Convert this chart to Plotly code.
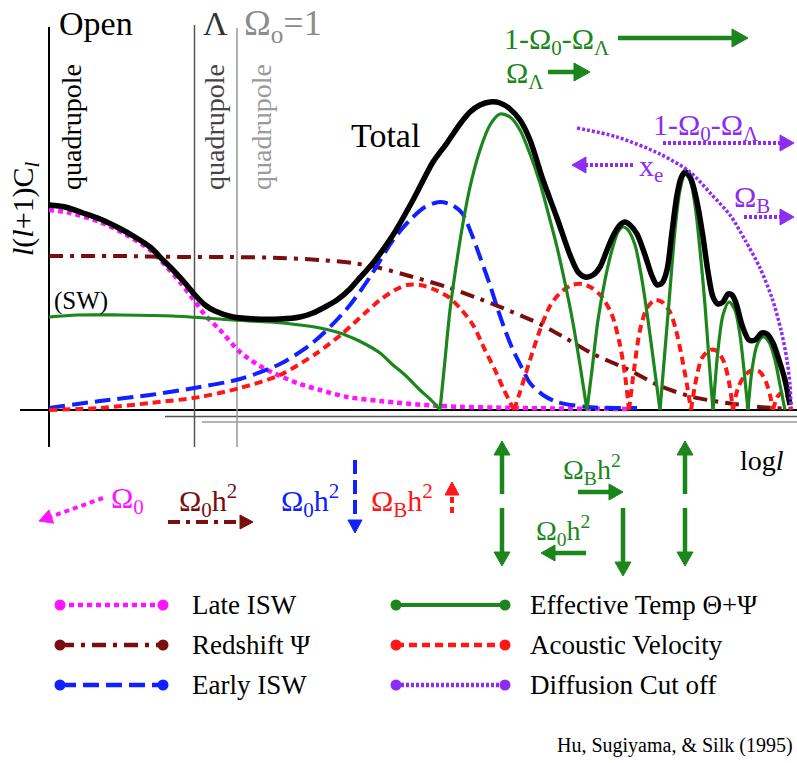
import math
import plotly.graph_objects as go

# ---------------------------------------------------------------------------
# Anatomy of the CMB anisotropy spectrum (schematic)
# x: log l (arbitrary units), y: l(l+1)C_l (arbitrary units)
# ---------------------------------------------------------------------------
total_l = [0, 16, 34, 51, 68, 86, 101, 114, 124, 136, 146, 156, 166, 184, 206, 231, 251, 264, 276, 288,
           301, 308, 324, 344, 364, 384, 398, 411, 421, 431, 441, 451, 461, 471, 481, 494, 508, 521, 529, 536,
           544, 551, 558, 564, 571, 576, 581, 588, 596, 603, 608, 613, 618, 623, 628, 632, 636, 640, 644, 649,
           654, 659, 664, 669, 674, 679, 683, 687, 693, 700, 706, 713, 718, 724, 730, 736, 741]
total_c = [205, 203, 197, 191, 183, 173, 163, 150, 140, 127, 115, 105, 99, 93, 91, 91, 93, 97, 103, 110,
           121, 129, 147, 175, 210, 248, 267, 286, 298, 305, 308, 307, 301, 290, 270, 230, 192, 155, 138, 133,
           135, 143, 160, 174, 185, 188, 185, 176, 155, 134, 125, 127, 140, 178, 215, 232, 238, 235, 225, 203,
           173, 138, 113, 106, 108, 116, 115, 107, 85, 70, 70, 77, 76, 67, 50, 30, 5]

# effective temperature: one hump per acoustic peak (gaps split the humps)
temp_l = [0, 28, 71, 124, 184, 221, 251, 271, 291, 306, 318, 331, 344, 356, 371, 383, 391, None,
          391, 396, 401, 408, 414, 421, 431, 441, 451, 461, 471, 481, 491, 501, 508, 516, 524, 531, 538, None,
          538, 543, 549, 556, 563, 569, 574, 579, 586, 593, 599, 605, 611, None,
          611, 616, 621, 626, 631, 636, 641, 646, 651, 656, 660, 664, None,
          664, 669, 674, 680, 686, 691, 695, 699, None,
          699, 703, 708, 714, 720, 726, 731, 736]
temp_c = [93, 95, 95, 94, 90, 88, 85, 82, 77, 71, 65, 57, 45, 35, 20, 9, 0, None,
          0, 50, 100, 150, 187, 223, 260, 285, 296, 293, 280, 256, 227, 190, 163, 127, 87, 45, 0, None,
          0, 40, 90, 130, 160, 178, 183, 180, 165, 130, 90, 45, 0, None,
          0, 60, 120, 180, 220, 236, 230, 205, 160, 105, 50, 0, None,
          0, 60, 95, 108, 100, 75, 40, 0, None,
          0, 40, 65, 73, 68, 50, 25, 0]

velocity_l = [0, 51, 101, 151, 191, 231, 268, 294, 316, 331, 346, 358, 371, 384, 398, 411, 424, 436, 446, 454, 461, 465, None,
              465, 471, 481, 491, 501, 511, 523, 533, 543, 553, 563, 571, 576, 580, None,
              580, 585, 591, 598, 606, 613, 621, 627, 633, 638, 642, None,
              642, 647, 653, 661, 668, 675, 680, 684, None,
              684, 689, 696, 704, 711, 717, 721, 724, None,
              724, 729, 735, 740, 742]
velocity_c = [0, 2, 7, 13, 22, 35, 57, 77, 97, 110, 120, 125, 125, 121, 114, 102, 85, 60, 40, 22, 8, 0, None,
              0, 18, 50, 80, 104, 117, 125, 126, 122, 113, 95, 65, 35, 0, None,
              0, 40, 80, 102, 110, 108, 98, 80, 52, 25, 0, None,
              0, 30, 52, 60, 59, 48, 28, 0, None,
              0, 22, 35, 40, 38, 28, 15, 0, None,
              0, 14, 18, 10, 0]

early_l = [0, 51, 101, 151, 191, 231, 261, 281, 301, 321, 344, 361, 376, 391, 403, 413, 423, 431, 441, 448,
           456, 464, 473, 481, 494, 508, 538, 566, 588]
early_c = [2, 9, 15, 23, 31, 46, 65, 83, 105, 133, 170, 190, 203, 208, 205, 197, 175, 153, 125, 103,
           80, 60, 42, 27, 15, 8, 3, 2, 2]

redshift_l = [0, 71, 131, 181, 231, 271, 304, 331, 364, 398, 431, 461, 491, 518, 544, 578, 611, 644, 678, 711, 741]
redshift_c = [154, 154, 153, 153, 152, 150, 147, 142, 133, 123, 111, 99, 86, 71, 56, 41, 24, 13, 7, 3, 1]

late_l = [0, 21, 51, 76, 101, 116, 131, 144, 156, 171, 191, 211, 231, 251, 271, 298, 331, 391, 471, 578]
late_c = [200, 197, 188, 176, 160, 145, 128, 111, 95, 80, 58, 44, 34, 26, 20, 13, 9, 4, 2, 1]

damping_l = [528, 568, 611, 641, 663, 681, 696, 711, 723, 732, 738, 741, 742]
damping_c = [282, 273, 256, 238, 215, 195, 170, 142, 112, 80, 50, 25, 2]

# ---------------------------------------------------------------------------
W, H = 797, 763
SERIF = "Liberation Serif"

BLACK = "#000000"
GREEN = "#1b861b"
MAGENTA = "#ff14ff"
DARKRED = "#7a0d0d"
BLUE = "#1020ff"
RED = "#ff1616"
VIOLET = "#8f2cf2"

STYLE = {
    "late": dict(color=MAGENTA, width=4.5, dash="5px,4px"),
    "redshift": dict(color=DARKRED, width=4, dash="14px,7px,4px,7px"),
    "early": dict(color=BLUE, width=4, dash="16px,7px"),
    "temp": dict(color=GREEN, width=3.2, dash="solid"),
    "velocity": dict(color=RED, width=4, dash="8px,5px"),
    "damping": dict(color=VIOLET, width=3.5, dash="3px,2px"),
    "total": dict(color=BLACK, width=5.5, dash="solid"),
}

fig = go.Figure()


def curve(x, y, key):
    fig.add_trace(go.Scatter(
        x=x, y=y, mode="lines", xaxis="x", yaxis="y",
        line=dict(shape="spline", smoothing=0.8, **STYLE[key]),
        connectgaps=False, hoverinfo="skip", showlegend=False))


curve(late_l, late_c, "late")
curve(redshift_l, redshift_c, "redshift")
curve(early_l, early_c, "early")
curve(velocity_l, velocity_c, "velocity")
curve(temp_l, temp_c, "temp")
curve(total_l, total_c, "total")
curve(damping_l, damping_c, "damping")

shapes = []
annotations = []


def seg(x0, y0, x1, y1, color, width, dash="solid", layer="above"):
    shapes.append(dict(type="line", xref="x2", yref="y2", x0=x0, y0=y0, x1=x1, y1=y1,
                       layer=layer, line=dict(color=color, width=width, dash=dash)))


def arrow(x0, y0, x1, y1, color, width=4, dash="solid", head=13, half=7):
    dx, dy = x1 - x0, y1 - y0
    n = math.hypot(dx, dy)
    ux, uy = dx / n, dy / n
    bx, by = x1 - ux * head, y1 - uy * head
    seg(x0, y0, bx + ux * 2, by + uy * 2, color, width, dash)
    nx, ny = -uy, ux
    path = (f"M {x1:.1f},{y1:.1f} L {bx + nx * half:.1f},{by + ny * half:.1f} "
            f"L {bx - nx * half:.1f},{by - ny * half:.1f} Z")
    shapes.append(dict(type="path", xref="x2", yref="y2", path=path,
                       fillcolor=color, line=dict(color=color, width=1)))


def text(s, x, y, size, color=BLACK, xanchor="left", angle=0):
    annotations.append(dict(text=s, x=x, y=y, xref="x2", yref="y2", xanchor=xanchor,
                            yanchor="middle", showarrow=False, textangle=angle,
                            font=dict(family=SERIF, size=size, color=color)))


# frame: baseline, offset baselines and the three quadrupole markers
seg(20, 410, W, 410, BLACK, 2, layer="below")
seg(165, 416.5, W, 416.5, "#555555", 1.5, layer="below")
seg(202, 422, W, 422, "#9a9a9a", 1.5, layer="below")
seg(49, 27, 49, 447, BLACK, 2, layer="below")
seg(194.5, 25, 194.5, 447, "#555555", 1.5, layer="below")
seg(237, 28, 237, 447, "#9a9a9a", 1.5, layer="below")

text("Open", 57, 23, 34)
text("Λ", 215, 23, 34, "#333333", xanchor="center")
text("Ω<sub>o</sub>=1", 242, 25, 36, "#8c8c8c")
text("quadrupole", 71, 127, 28, BLACK, xanchor="center", angle=-90)
text("quadrupole", 214, 127, 28, "#444444", xanchor="center", angle=-90)
text("quadrupole", 261, 127, 28, "#9a9a9a", xanchor="center", angle=-90)
text("<i>l</i>(<i>l</i>+1)C<sub><i>l</i></sub>", 25, 209, 30, BLACK, xanchor="center", angle=-90)
text("(SW)", 52, 301, 25)
text("Total", 349, 135, 34)
text("log<i>l</i>", 738, 460, 28)

# geometry dependence: top-right
text("1-Ω<sub>0</sub>-Ω<sub>Λ</sub>", 502, 41, 30, GREEN)
arrow(618, 38, 748, 38, GREEN, width=4.5, head=16, half=9)
text("Ω<sub>Λ</sub>", 504, 75, 30, GREEN)
arrow(548, 72, 590, 72, GREEN, width=4.5, head=16, half=9)

text("1-Ω<sub>0</sub>-Ω<sub>Λ</sub>", 651, 127, 30, VIOLET)
arrow(663, 143, 794, 143, VIOLET, width=4, dash="3px,2px", head=14, half=8)
text("x<sub>e</sub>", 637, 168, 30, VIOLET)
arrow(633, 165, 572, 165, VIOLET, width=4, dash="3px,2px", head=14, half=8)
text("Ω<sub>B</sub>", 732, 199, 30, VIOLET)
arrow(744, 217, 794, 217, VIOLET, width=4, dash="3px,2px", head=14, half=8)

# parameter dependence: below the axis
text("Ω<sub>0</sub>", 109, 500, 30, MAGENTA)
arrow(103, 498, 39, 521, MAGENTA, width=4, dash="5px,4px", head=13, half=7)
text("Ω<sub>0</sub>h<sup>2</sup>", 177, 500, 30, DARKRED)
arrow(168, 522, 253, 522, DARKRED, width=4, dash="12px,6px,4px,6px", head=13, half=7)
text("Ω<sub>0</sub>h<sup>2</sup>", 279, 500, 30, BLUE)
arrow(355, 460, 355, 533, BLUE, width=4, dash="14px,6px", head=13, half=7)
text("Ω<sub>B</sub>h<sup>2</sup>", 369, 500, 30, RED)
arrow(452, 513, 452, 482, RED, width=4, dash="6px,4px", head=13, half=7)

for gx in (502, 685):
    arrow(gx, 494, gx, 441, GREEN, width=4.5, head=14, half=8)
    arrow(gx, 508, gx, 566, GREEN, width=4.5, head=14, half=8)
arrow(623, 508, 623, 576, GREEN, width=4.5, head=14, half=8)
text("Ω<sub>B</sub>h<sup>2</sup>", 561, 469, 28, GREEN)
arrow(578, 492, 623, 492, GREEN, width=4.5, head=14, half=8)
text("Ω<sub>0</sub>h<sup>2</sup>", 534, 530, 28, GREEN)
arrow(586, 553, 541, 553, GREEN, width=4.5, head=14, half=8)

# key
legend_rows = [
    ("late", "Late ISW", 60, 163, 190, 605),
    ("redshift", "Redshift Ψ", 60, 163, 190, 645),
    ("early", "Early ISW", 60, 163, 190, 685),
    ("temp", "Effective Temp Θ+Ψ", 396, 505, 528, 605),
    ("velocity", "Acoustic Velocity", 396, 505, 528, 645),
    ("damping", "Diffusion Cut off", 396, 505, 528, 685),
]
for key, name, lx0, lx1, tx, ty in legend_rows:
    st = STYLE[key]
    fig.add_trace(go.Scatter(
        x=[lx0, lx1], y=[ty, ty], mode="lines+markers", xaxis="x2", yaxis="y2",
        line=dict(color=st["color"], width=4.5 if key != "temp" else 4, dash=st["dash"]),
        marker=dict(size=11, color=st["color"]),
        hoverinfo="skip", showlegend=False))
    text(name, tx, ty, 27)

text("Hu, Sugiyama, &amp; Silk (1995)", 795, 745, 20, BLACK, xanchor="right")

fig.update_layout(
    width=W, height=H, margin=dict(l=0, r=0, t=0, b=0),
    paper_bgcolor="white", plot_bgcolor="white", showlegend=False,
    font=dict(family=SERIF),
    xaxis=dict(range=[-49, W - 49], visible=False, domain=[0, 1], fixedrange=True),
    yaxis=dict(range=[410 - H, 410], visible=False, domain=[0, 1], fixedrange=True),
    xaxis2=dict(range=[0, W], visible=False, overlaying="x", anchor="y2", domain=[0, 1], fixedrange=True),
    yaxis2=dict(range=[H, 0], visible=False, overlaying="y", anchor="x2", domain=[0, 1], fixedrange=True),
    shapes=shapes, annotations=annotations,
)

fig.write_html("out.html", config={"displayModeBar": False})
